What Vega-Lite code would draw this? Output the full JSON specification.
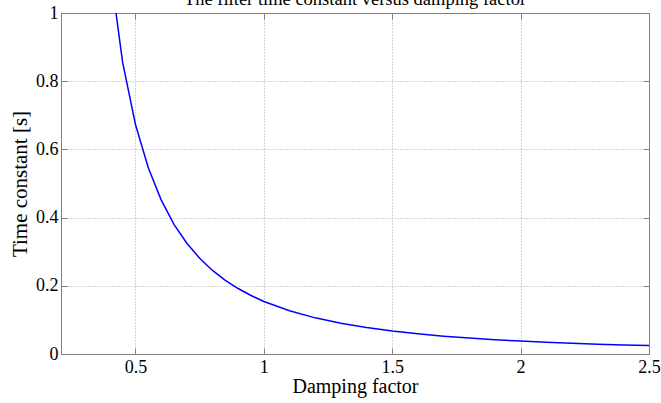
{
  "$schema": "https://vega.github.io/schema/vega-lite/v6.json",
  "width": 588,
  "height": 341,
  "autosize": "none",
  "padding": {"left": 61, "top": 13, "right": 12, "bottom": 49},
  "background": "white",
  "title": {
    "text": "The filter time constant versus damping factor",
    "font": "Liberation Serif",
    "fontSize": 18.5,
    "fontWeight": "normal",
    "color": "black",
    "offset": -4,
    "anchor": "middle"
  },
  "config": {
    "view": {"stroke": "#808080", "strokeWidth": 1},
    "axis": {
      "labelFont": "Liberation Serif",
      "labelFontSize": 18,
      "labelColor": "black",
      "titleFont": "Liberation Serif",
      "titleFontSize": 20,
      "titleFontWeight": "normal",
      "titleColor": "black",
      "domainColor": "#808080",
      "tickColor": "#808080",
      "gridColor": "#a8a8a8",
      "gridDash": [1, 2],
      "gridWidth": 1
    }
  },
  "data": {
    "values": [
      {"zeta": 0.40, "tau": 1.136},
      {"zeta": 0.45, "tau": 0.855},
      {"zeta": 0.50, "tau": 0.673},
      {"zeta": 0.55, "tau": 0.546},
      {"zeta": 0.60, "tau": 0.452},
      {"zeta": 0.65, "tau": 0.380},
      {"zeta": 0.70, "tau": 0.325},
      {"zeta": 0.75, "tau": 0.281},
      {"zeta": 0.80, "tau": 0.245},
      {"zeta": 0.85, "tau": 0.216},
      {"zeta": 0.90, "tau": 0.192},
      {"zeta": 0.95, "tau": 0.1715},
      {"zeta": 1.00, "tau": 0.154},
      {"zeta": 1.10, "tau": 0.127},
      {"zeta": 1.20, "tau": 0.106},
      {"zeta": 1.30, "tau": 0.0903},
      {"zeta": 1.40, "tau": 0.0776},
      {"zeta": 1.50, "tau": 0.0675},
      {"zeta": 1.60, "tau": 0.0592},
      {"zeta": 1.70, "tau": 0.0524},
      {"zeta": 1.80, "tau": 0.0467},
      {"zeta": 1.90, "tau": 0.0419},
      {"zeta": 2.00, "tau": 0.0378},
      {"zeta": 2.10, "tau": 0.0342},
      {"zeta": 2.20, "tau": 0.0312},
      {"zeta": 2.30, "tau": 0.0285},
      {"zeta": 2.40, "tau": 0.0265},
      {"zeta": 2.50, "tau": 0.0248}
    ]
  },
  "layer": [
    {
      "mark": {"type": "line", "color": "#0000ff", "strokeWidth": 1.5, "clip": true, "interpolate": "linear"},
      "encoding": {
        "x": {
          "field": "zeta", "type": "quantitative",
          "scale": {"domain": [0.21, 2.5], "nice": false, "zero": false},
          "axis": {"title": "Damping factor", "values": [0.5, 1, 1.5, 2, 2.5], "tickSize": -6, "labelPadding": 10, "titlePadding": 0, "format": "~g", "labelFlush": false}
        },
        "y": {
          "field": "tau", "type": "quantitative",
          "scale": {"domain": [0, 1], "nice": false},
          "axis": {"title": "Time constant [s]", "titleFontSize": 21, "values": [0, 0.2, 0.4, 0.6, 0.8, 1], "tickSize": -6, "labelPadding": 9, "titlePadding": 5, "format": "~g"}
        }
      }
    },
    {
      "mark": {"type": "line", "opacity": 0, "clip": true},
      "encoding": {
        "x": {
          "field": "zeta", "type": "quantitative",
          "scale": {"domain": [0.21, 2.5], "nice": false, "zero": false},
          "axis": {"orient": "top", "title": null, "values": [0.5, 1, 1.5, 2, 2.5], "labels": false, "grid": false, "tickSize": -6}
        },
        "y": {
          "field": "tau", "type": "quantitative",
          "scale": {"domain": [0, 1], "nice": false},
          "axis": {"orient": "right", "title": null, "values": [0, 0.2, 0.4, 0.6, 0.8, 1], "labels": false, "grid": false, "tickSize": -6}
        }
      }
    }
  ],
  "resolve": {"axis": {"x": "independent", "y": "independent"}}
}
